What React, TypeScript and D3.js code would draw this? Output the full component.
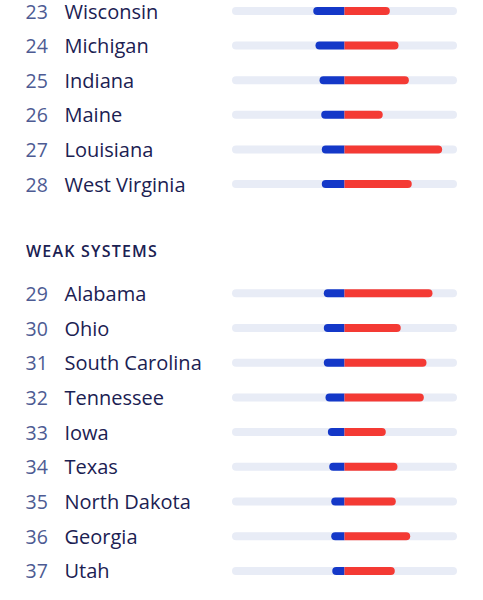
import React from "react";
import * as d3 from "d3";

const ranks1 = [23, 24, 25, 26, 27, 28];
const states1 = ["Wisconsin", "Michigan", "Indiana", "Maine", "Louisiana", "West Virginia"];
const blue1 = [27.8, 25.8, 22.2, 20.7, 20.2, 20.2];
const red1 = [40.3, 48, 57.2, 34, 86.8, 59.8];

const sectionTitle = "WEAK SYSTEMS";
const ranks2 = [29, 30, 31, 32, 33, 34, 35, 36, 37];
const states2 = ["Alabama", "Ohio", "South Carolina", "Tennessee", "Iowa", "Texas", "North Dakota", "Georgia", "Utah"];
const blue2 = [18.4, 18.4, 18.4, 16.9, 14.8, 13.6, 11.8, 11.8, 10.9];
const red2 = [78.2, 50, 72.9, 70.5, 36.7, 47.1, 45.6, 58.4, 44.7];

const W = 483;
const H = 600;
const BAR_H = 8;
const R = 4;

const x = d3.scaleLinear().domain([-100, 100]).range([232, 457]);

function leftRounded(x0: number, x1: number, yc: number) {
  const t = yc - BAR_H / 2;
  const b = yc + BAR_H / 2;
  const p = d3.path();
  p.moveTo(x1, t);
  p.lineTo(x0 + R, t);
  p.arc(x0 + R, yc, R, -Math.PI / 2, Math.PI / 2, true);
  p.lineTo(x1, b);
  p.closePath();
  return p.toString();
}
function rightRounded(x0: number, x1: number, yc: number) {
  const t = yc - BAR_H / 2;
  const b = yc + BAR_H / 2;
  const p = d3.path();
  p.moveTo(x0, t);
  p.lineTo(x1 - R, t);
  p.arc(x1 - R, yc, R, -Math.PI / 2, Math.PI / 2, false);
  p.lineTo(x0, b);
  p.closePath();
  return p.toString();
}

const FONT = "'Open Sans', 'Noto Sans', sans-serif";

function Rows({ ranks, states, blue, red, y }: { ranks: number[]; states: string[]; blue: number[]; red: number[]; y: d3.ScaleLinear<number, number> }) {
  return (
    <g>
      {ranks.map((rk, i) => {
        const yc = y(i);
        return (
          <g key={rk}>
            <text x={25.5} y={yc + 7.5} fontSize={19.5} fill="#4d5b93" fontFamily={FONT}>{rk}</text>
            <text x={64.5} y={yc + 7.5} fontSize={20} fill="#1b2152" fontFamily={FONT}>{states[i]}</text>
            <rect x={x(-100)} y={yc - BAR_H / 2} width={x(100) - x(-100)} height={BAR_H} rx={R} fill="#e8ecf6" />
            <path d={leftRounded(x(-blue[i]), x(0), yc)} fill="#1438c8" />
            <path d={rightRounded(x(0), x(red[i]), yc)} fill="#f43a34" />
          </g>
        );
      })}
    </g>
  );
}

export default function App() {
  const y1 = d3.scaleLinear().domain([0, 1]).range([11, 45.6]);
  const y2 = d3.scaleLinear().domain([0, 1]).range([293.3, 328]);
  return (
    <svg width={W} height={H} style={{ position: "absolute", left: 0, top: 0, background: "#fff" }}>
      <rect width={W} height={H} fill="#fff" />
      <Rows ranks={ranks1} states={states1} blue={blue1} red={red1} y={y1} />
      <text x={26} y={257.3} fontSize={16} fontWeight={600} letterSpacing={1.2} fill="#1b2152" fontFamily={FONT}>{sectionTitle}</text>
      <Rows ranks={ranks2} states={states2} blue={blue2} red={red2} y={y2} />
    </svg>
  );
}
